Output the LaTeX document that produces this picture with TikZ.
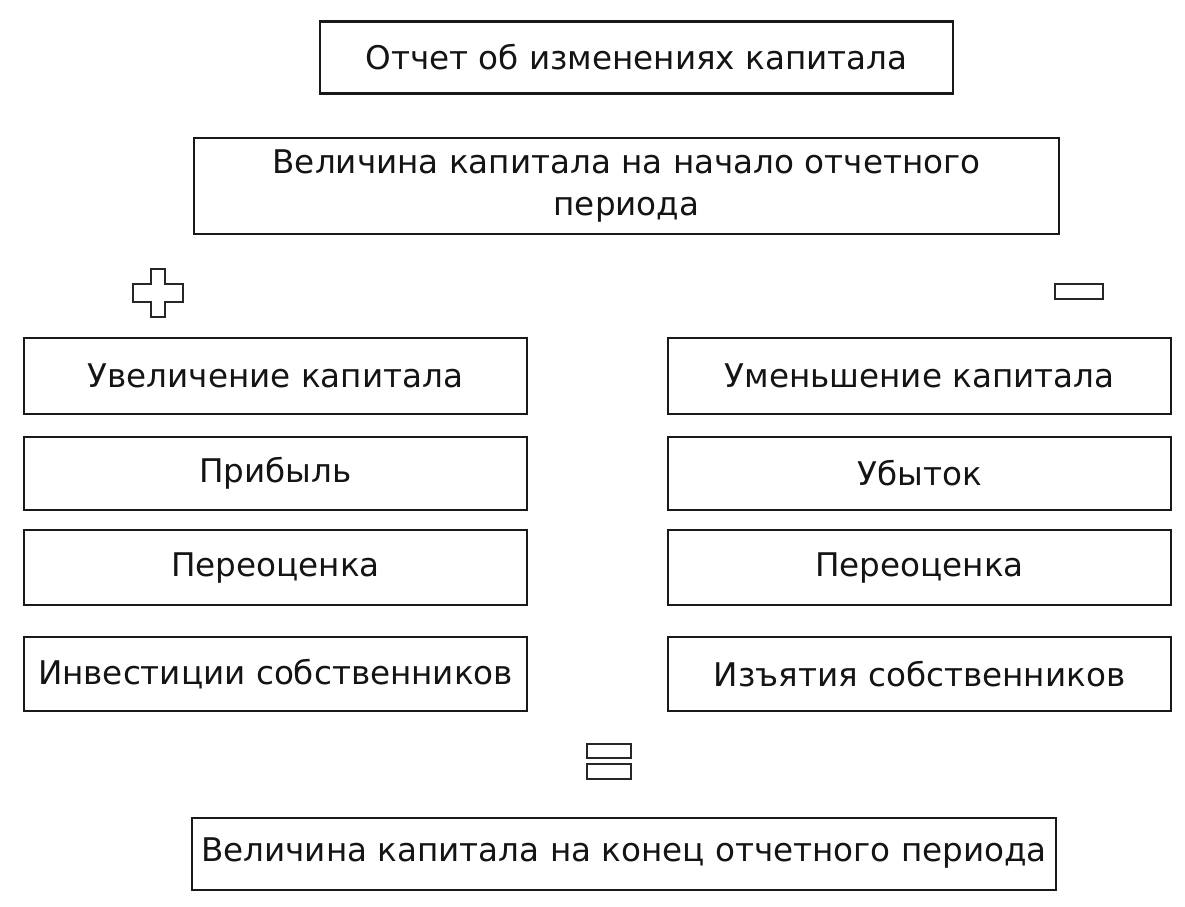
\documentclass[tikz,border=0pt]{standalone}
\usepackage{fontspec}
\setmainfont{DejaVu Sans}
\begin{document}
\begin{tikzpicture}[x=1pt,y=1pt,
  box/.style={draw=black!90, line width=2.8pt, rectangle, inner sep=0pt,
    font=\fontsize{32.6}{42}\selectfont, text=black!92, align=center},
  sym/.style={draw=black!85, line width=2.8pt, fill=white}]
\useasboundingbox (0,0) rectangle (1185,-906);
% title
\node[box, minimum width=633, minimum height=72] (title) at (636.5,-57.5) {Отчет об изменениях капитала};
\node[box, minimum width=865, minimum height=96] (start) at (626.5,-186) {Величина капитала на начало отчетного\\периода};
% plus sign
\draw[sym] (151,-269) -- (165,-269) -- (165,-284) -- (183,-284) -- (183,-302) -- (165,-302)
  -- (165,-317) -- (151,-317) -- (151,-302) -- (133,-302) -- (133,-284) -- (151,-284) -- cycle;
% minus sign
\draw[sym] (1055,-284) rectangle (1103,-299);
% left column
\node[box, minimum width=503, minimum height=76] (inc) at (275.5,-376) {Увеличение капитала};
\node[box, minimum width=503, minimum height=73] (profit) at (275.5,-473.5) {Прибыль};
\node[box, minimum width=503, minimum height=75] (revl) at (275.5,-567.5) {Переоценка};
\node[box, minimum width=503, minimum height=74] (inv) at (275.5,-674) {Инвестиции собственников};
% right column
\node[box, minimum width=503, minimum height=76] (dec) at (919.5,-376) {Уменьшение капитала};
\node[box, minimum width=503, minimum height=73] (loss) at (919.5,-473.5) {Убыток};
\node[box, minimum width=503, minimum height=75] (revr) at (919.5,-567.5) {Переоценка};
\node[box, minimum width=503, minimum height=74] (wd) at (919.5,-674) {Изъятия собственников};
% equals sign
\draw[sym] (587,-744) rectangle (631,-758);
\draw[sym] (587,-764) rectangle (631,-779);
% end
\node[box, minimum width=864, minimum height=72] (end) at (624,-854) {\raisebox{8pt}{Величина капитала на конец отчетного периода}};
\end{tikzpicture}
\end{document}
